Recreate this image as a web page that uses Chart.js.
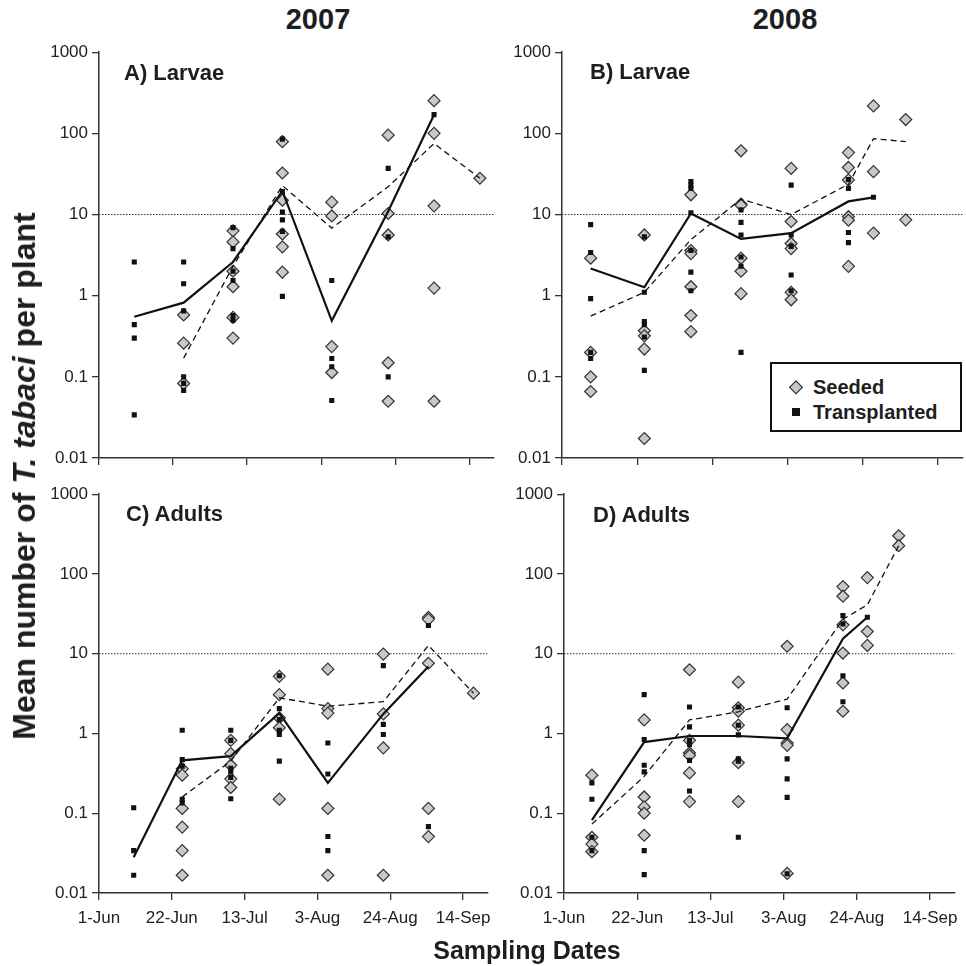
<!DOCTYPE html>
<html lang="en">

<head>
  <meta charset="UTF-8">
  <title>T. tabaci on seeded and transplanted onions, 2007-2008</title>
  <script src="https://cdn.jsdelivr.net/npm/chart.js"></script>
  <style>
    body {
      margin: 0;
      background: #fff;
    }

    #figure {
      position: relative;
      width: 966px;
      height: 966px;
      overflow: hidden;
      font-family: "Liberation Sans", Arial, sans-serif;
      color: #1e1e1e;
    }

    #figure canvas {
      position: absolute;
    }

    .label {
      position: absolute;
      font-weight: bold;
      line-height: 1;
      white-space: nowrap;
    }

    .year {
      font-size: 29px;
      transform: translate(-50%, -50%);
    }

    .panel-name {
      font-size: 22px;
      transform: translateY(-50%);
    }

    #yTitle {
      font-size: 32px;
      left: 24px;
      top: 476px;
      transform: translate(-50%, -50%) rotate(-90deg);
    }

    #xTitle {
      font-size: 25px;
      left: 527px;
      top: 950px;
      transform: translate(-50%, -50%);
    }

    #legend {
      position: absolute;
      left: 770px;
      top: 362px;
      width: 188px;
      height: 66px;
      border: 2px solid #111;
      background: #fff;
    }

    #legend .item {
      position: absolute;
      left: 41px;
      font-size: 20px;
      font-weight: bold;
      line-height: 1;
      transform: translateY(-50%);
      white-space: nowrap;
    }

    #legend .diamond {
      position: absolute;
      width: 7.5px;
      height: 7.5px;
      left: 23.7px;
      top: 22.7px;
      background: #c8c8c8;
      border: 1.4px solid #222;
      transform: translate(-50%, -50%) rotate(45deg);
    }

    #legend .square {
      position: absolute;
      width: 8px;
      height: 8px;
      left: 23.7px;
      top: 47.7px;
      background: #111;
      transform: translate(-50%, -50%);
    }
  </style>
</head>

<body>
  <div id="figure">
    <canvas id="panelA"></canvas>
    <canvas id="panelB"></canvas>
    <canvas id="panelC"></canvas>
    <canvas id="panelD"></canvas>

    <div class="label year" style="left:318px; top:19px;">2007</div>
    <div class="label year" style="left:785px; top:19px;">2008</div>

    <div class="label panel-name" style="left:124px; top:73px;">A) Larvae</div>
    <div class="label panel-name" style="left:590px; top:72px;">B) Larvae</div>
    <div class="label panel-name" style="left:126px; top:514px;">C) Adults</div>
    <div class="label panel-name" style="left:593px; top:515px;">D) Adults</div>

    <div class="label" id="yTitle">Mean number of <i>T. tabaci</i> per plant</div>
    <div class="label" id="xTitle">Sampling Dates</div>

    <div id="legend">
      <div class="diamond"></div>
      <div class="item" style="top:22.7px;">Seeded</div>
      <div class="square"></div>
      <div class="item" style="top:47.7px;">Transplanted</div>
    </div>
  </div>

  <script>
    // x axis: days after 1 June
    const TICK_DAYS = [0, 21, 42, 63, 84, 105];
    const DATE_LABELS = ['1-Jun', '22-Jun', '13-Jul', '3-Aug', '24-Aug', '14-Sep'];
    const Y_TICKS = [0.01, 0.1, 1, 10, 100, 1000];
    const THRESHOLD = 10;

    // sampling dates (days after 1 June)
    const days2007 = [10, 24, 38, 52, 66, 82, 95, 108];
    const days2008 = [8, 23, 36, 50, 64, 80, 87, 96];

    // A) larvae 2007 - one list of field values per sampling date
    const larvae2007Seeded = [
      [], [0.58, 0.26, 0.083], [6.3, 4.6, 2.0, 1.29, 0.54, 0.30], [79, 32.5, 15, 5.75, 4.0, 1.95],
      [14.2, 9.6, 0.236, 0.113], [95, 10.3, 5.6, 0.149, 0.05], [253, 100, 12.8, 1.24, 0.05], [28]
    ];
    const larvae2007Trans = [
      [2.6, 0.44, 0.30, 0.034], [2.6, 1.4, 0.65, 0.1, 0.083, 0.068], [6.9, 3.8, 2.0, 1.54, 0.57, 0.5],
      [85, 19.2, 10.7, 8.6, 6.2, 0.98], [1.54, 0.168, 0.133, 0.051], [37, 5.3, 0.1], [170], []
    ];
    const larvae2007SeededMean = [null, 0.17, 2.3, 22.7, 6.8, 22, 75, 28];
    const larvae2007TransMean = [0.55, 0.82, 2.6, 19.5, 0.49, 11, 170, null];

    // B) larvae 2008
    const larvae2008Seeded = [
      [2.9, 0.2, 0.1, 0.066], [5.6, 0.37, 0.32, 0.22, 0.0174], [17.5, 3.6, 3.3, 1.29, 0.57, 0.36],
      [61, 13.4, 13, 2.9, 2.0, 1.06], [37, 8.2, 4.4, 3.8, 1.1, 0.89], [58, 38, 26.7, 9.4, 8.5, 2.3],
      [218, 33.7, 5.9], [148, 8.6]
    ];
    const larvae2008Trans = [
      [7.5, 3.4, 0.92, 0.2, 0.168], [5.3, 1.1, 0.48, 0.44, 0.31, 0.12], [25.5, 23, 21, 10.5, 3.6, 1.95, 1.15],
      [11.4, 8.0, 5.6, 3.0, 2.3, 0.2], [23, 5.6, 4.05, 1.8, 1.15], [27, 21, 6.0, 4.5], [16.3], []
    ];
    const larvae2008SeededMean = [0.56, 1.1, 4.9, 15.5, 10, 23.6, 86, 79];
    const larvae2008TransMean = [2.16, 1.27, 10.3, 5.0, 5.9, 14.5, 16.3, null];

    // C) adults 2007
    const adults2007Seeded = [
      [], [0.36, 0.30, 0.115, 0.067, 0.034, 0.0167], [0.82, 0.56, 0.40, 0.27, 0.21], [5.2, 3.07, 1.57, 1.18, 0.15],
      [6.4, 2.05, 1.8, 0.115, 0.0167], [9.9, 1.76, 0.66, 0.0167], [28.5, 27, 7.6, 0.115, 0.051], [3.2]
    ];
    const adults2007Trans = [
      [0.117, 0.034, 0.0167], [1.1, 0.47, 0.39, 0.15, 0.135], [1.1, 0.82, 0.365, 0.33, 0.28, 0.152],
      [5.3, 2.05, 1.5, 1.1, 0.97, 0.45], [0.76, 0.31, 0.051, 0.034], [7.1, 1.3, 0.97], [22.6, 0.068], []
    ];
    const adults2007SeededMean = [null, 0.16, 0.45, 2.8, 2.2, 2.5, 12.7, 3.2];
    const adults2007TransMean = [0.028, 0.46, 0.52, 1.8, 0.24, 1.76, 6.9, null];

    // D) adults 2008
    const adults2008Seeded = [
      [0.30, 0.05, 0.041, 0.033], [1.48, 0.16, 0.12, 0.1, 0.053], [6.3, 0.82, 0.57, 0.53, 0.32, 0.14],
      [4.4, 2.1, 1.9, 1.27, 0.43, 0.14], [12.4, 1.12, 0.76, 0.71, 0.0176], [69.5, 52.6, 23, 10.2, 4.3, 1.9],
      [90, 19, 12.7], [301, 226]
    ];
    const adults2008Trans = [
      [0.24, 0.15, 0.05, 0.034], [3.07, 0.84, 0.40, 0.33, 0.034, 0.017], [2.15, 1.21, 0.82, 0.73, 0.46, 0.19],
      [2.15, 1.27, 0.96, 0.48, 0.45, 0.05], [2.1, 0.48, 0.27, 0.158, 0.0174], [30, 23.7, 5.3, 2.5], [28.7], []
    ];
    const adults2008SeededMean = [0.073, 0.29, 1.48, 1.87, 2.7, 27, 41, 226];
    const adults2008TransMean = [0.082, 0.78, 0.93, 0.93, 0.87, 15.4, 28.7, null];

    // plot area of each panel in page pixels
    const PANEL_BOXES = {
      panelA: { left: 99, right: 494, top: 50, bottom: 458 },
      panelB: { left: 562, right: 963, top: 50, bottom: 458 },
      panelC: { left: 99, right: 491, top: 492, bottom: 893 },
      panelD: { left: 564, right: 958, top: 492, bottom: 893 }
    };
    // room around the plot area inside each canvas
    const PAD = { left: 62, top: 12, right: 8, bottom: 44 };
    const FONT = { family: '"Liberation Sans", Arial, sans-serif', size: 17 };

    function samplePoints(days, samples) {
      const pts = [];
      samples.forEach((list, i) => list.forEach(v => pts.push({ x: days[i], y: v })));
      return pts;
    }

    function meanPoints(days, means) {
      return means.map((v, i) => ({ x: days[i], y: v })).filter(p => p.y !== null);
    }

    // dotted reference line at 10 per plant
    const thresholdLine = {
      id: 'thresholdLine',
      beforeDatasetsDraw(chart) {
        const { ctx, chartArea, scales } = chart;
        const y = scales.y.getPixelForValue(THRESHOLD);
        ctx.save();
        ctx.strokeStyle = '#333';
        ctx.lineWidth = 1;
        ctx.setLineDash([1.5, 1.5]);
        ctx.beginPath();
        ctx.moveTo(chartArea.left, y);
        ctx.lineTo(chartArea.right, y);
        ctx.stroke();
        ctx.restore();
      }
    };

    function buildPanel(id, days, seeded, trans, seededMean, transMean, showDates) {
      const box = PANEL_BOXES[id];
      const canvas = document.getElementById(id);
      canvas.width = box.right - box.left + PAD.left + PAD.right;
      canvas.height = box.bottom - box.top + PAD.top + PAD.bottom;
      canvas.style.left = (box.left - PAD.left) + 'px';
      canvas.style.top = (box.top - PAD.top) + 'px';

      const axisGrid = {
        display: true,
        drawOnChartArea: false,
        drawTicks: true,
        tickLength: 7,
        color: '#333',
        lineWidth: 1.3
      };
      const axisBorder = { display: true, color: '#333', width: 1.5 };

      return new Chart(canvas, {
        type: 'scatter',
        data: {
          datasets: [
            {
              label: 'Transplanted mean',
              data: meanPoints(days, transMean),
              showLine: true,
              borderColor: '#111',
              borderWidth: 2.2,
              pointRadius: 0,
              order: 1
            },
            {
              label: 'Seeded mean',
              data: meanPoints(days, seededMean),
              showLine: true,
              borderColor: '#111',
              borderWidth: 1.3,
              borderDash: [6, 4],
              pointRadius: 0,
              order: 2
            },
            {
              label: 'Transplanted',
              data: samplePoints(days, trans),
              pointStyle: 'rect',
              pointRadius: 3.6,
              backgroundColor: '#111',
              borderColor: '#111',
              borderWidth: 0,
              order: 3
            },
            {
              label: 'Seeded',
              data: samplePoints(days, seeded),
              pointStyle: 'rectRot',
              pointRadius: 6,
              backgroundColor: '#c8c8c8',
              borderColor: '#333',
              borderWidth: 1.2,
              order: 4
            }
          ]
        },
        options: {
          responsive: false,
          animation: false,
          devicePixelRatio: 1,
          layout: {
            autoPadding: false,
            padding: { left: 0, top: PAD.top, right: PAD.right, bottom: 0 }
          },
          scales: {
            x: {
              type: 'linear',
              min: 0,
              max: 112,
              afterBuildTicks: (scale) => { scale.ticks = TICK_DAYS.map(v => ({ value: v })); },
              afterFit: (scale) => { scale.height = PAD.bottom; },
              ticks: {
                autoSkip: false,
                maxRotation: 0,
                padding: 8,
                color: '#222',
                font: FONT,
                callback: (value, index) => showDates ? DATE_LABELS[index] : ''
              },
              grid: axisGrid,
              border: axisBorder
            },
            y: {
              type: 'logarithmic',
              min: 0.01,
              max: 1000,
              afterBuildTicks: (scale) => { scale.ticks = Y_TICKS.map(v => ({ value: v })); },
              afterFit: (scale) => { scale.width = PAD.left; },
              ticks: {
                padding: 4,
                color: '#222',
                font: FONT,
                callback: (value) => String(value)
              },
              grid: axisGrid,
              border: axisBorder
            }
          },
          plugins: {
            legend: { display: false },
            tooltip: { enabled: false }
          }
        },
        plugins: [thresholdLine]
      });
    }

    buildPanel('panelA', days2007, larvae2007Seeded, larvae2007Trans, larvae2007SeededMean, larvae2007TransMean, false);
    buildPanel('panelB', days2008, larvae2008Seeded, larvae2008Trans, larvae2008SeededMean, larvae2008TransMean, false);
    buildPanel('panelC', days2007, adults2007Seeded, adults2007Trans, adults2007SeededMean, adults2007TransMean, true);
    buildPanel('panelD', days2008, adults2008Seeded, adults2008Trans, adults2008SeededMean, adults2008TransMean, true);
  </script>
</body>

</html>
